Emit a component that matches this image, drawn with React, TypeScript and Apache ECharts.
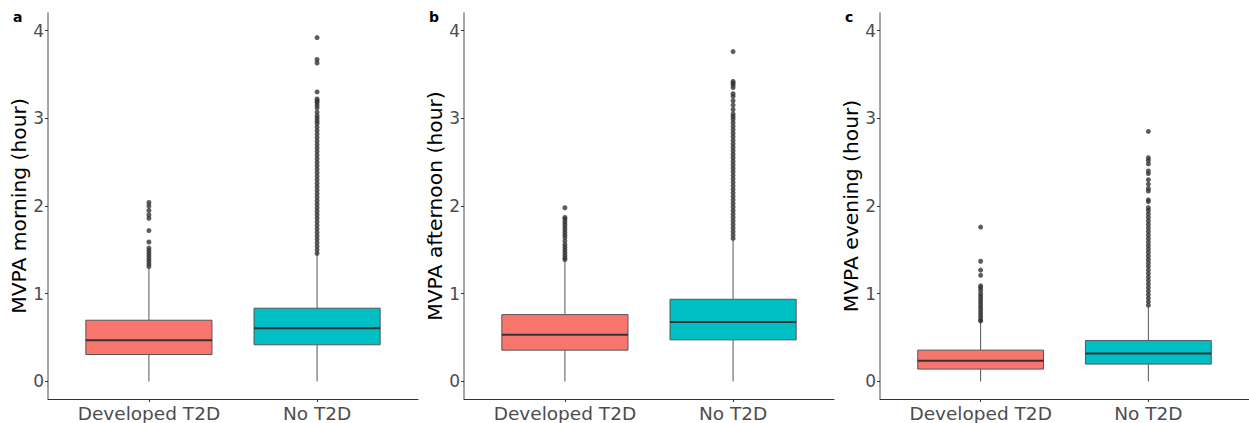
import React, { useEffect, useRef } from "react";
import * as echarts from "echarts";

const categories = ["Developed T2D", "No T2D"];
const panelLetters = ["a", "b", "c"];
const yTitles = ["MVPA morning (hour)", "MVPA afternoon (hour)", "MVPA evening (hour)"];
const yTicks = [0, 1, 2, 3, 4];

// [whiskerLow, Q1, median, Q3, whiskerHigh]
const morningDeveloped = [0, 0.307, 0.471, 0.698, 1.29];
const morningNo = [0, 0.418, 0.607, 0.835, 1.46];
const afternoonDeveloped = [0, 0.357, 0.531, 0.762, 1.38];
const afternoonNo = [0, 0.474, 0.679, 0.937, 1.62];
const eveningDeveloped = [0, 0.141, 0.235, 0.357, 0.68];
const eveningNo = [0, 0.198, 0.319, 0.466, 0.86];

const morningDevOut = [2.04, 2.0, 1.95, 1.9, 1.86, 1.72, 1.59, 1.52, 1.49, 1.46, 1.43, 1.4, 1.37, 1.34, 1.31];
const morningNoOut = [1.46, 1.5, 1.54, 1.58, 1.62, 1.66, 1.7, 1.74, 1.78, 1.82, 1.86, 1.9, 1.94, 1.98, 2.02, 2.06, 2.1, 2.14, 2.18, 2.22, 2.26, 2.3, 2.34, 2.38, 2.42, 2.46, 2.5, 2.54, 2.58, 2.62, 2.66, 2.7, 2.74, 2.78, 2.82, 2.86, 2.9, 2.94, 2.97, 3.0, 3.03, 3.07, 3.12, 3.15, 3.18, 3.2, 3.22, 3.3, 3.63, 3.67, 3.92];
const afternoonDevOut = [1.98, 1.87, 1.85, 1.82, 1.79, 1.76, 1.73, 1.7, 1.67, 1.64, 1.6, 1.56, 1.53, 1.5, 1.47, 1.44, 1.41, 1.39];
const afternoonNoOut = [1.63, 1.67, 1.71, 1.75, 1.79, 1.83, 1.87, 1.91, 1.95, 1.99, 2.03, 2.07, 2.11, 2.15, 2.19, 2.23, 2.27, 2.31, 2.35, 2.39, 2.43, 2.47, 2.51, 2.55, 2.59, 2.63, 2.67, 2.71, 2.75, 2.79, 2.83, 2.87, 2.91, 2.95, 2.99, 3.02, 3.05, 3.1, 3.15, 3.2, 3.25, 3.28, 3.35, 3.38, 3.4, 3.42, 3.76];
const eveningDevOut = [1.76, 1.37, 1.27, 1.21, 1.09, 1.07, 1.04, 1.0, 0.97, 0.94, 0.91, 0.88, 0.85, 0.82, 0.79, 0.76, 0.73, 0.7, 0.69];
const eveningNoOut = [0.87, 0.91, 0.95, 0.99, 1.03, 1.07, 1.11, 1.15, 1.19, 1.23, 1.27, 1.31, 1.35, 1.39, 1.43, 1.47, 1.51, 1.55, 1.59, 1.63, 1.67, 1.71, 1.75, 1.79, 1.83, 1.87, 1.91, 1.95, 1.98, 2.05, 2.07, 2.17, 2.2, 2.25, 2.3, 2.37, 2.4, 2.48, 2.52, 2.55, 2.85];

const colors = ["#F8766D", "#00BFC4"];

const panels = [
  { boxes: [morningDeveloped, morningNo], outliers: [morningDevOut, morningNoOut] },
  { boxes: [afternoonDeveloped, afternoonNo], outliers: [afternoonDevOut, afternoonNoOut] },
  { boxes: [eveningDeveloped, eveningNo], outliers: [eveningDevOut, eveningNoOut] },
];

const gridLefts = [48, 464, 880];
const gridWidth = 370;
const FONT = "DejaVu Sans";

export default function App() {
  const ref = useRef<HTMLDivElement>(null);
  useEffect(() => {
    const chart = echarts.init(ref.current!, null, { renderer: "svg" });
    const grids: any[] = [];
    const xAxes: any[] = [];
    const yAxes: any[] = [];
    const series: any[] = [];
    const graphics: any[] = [];
    panels.forEach((p, i) => {
      grids.push({ left: gridLefts[i], width: gridWidth, top: 13, height: 386 });
      xAxes.push({
        type: "value",
        gridIndex: i,
        min: 0.4,
        max: 2.6,
        splitLine: { show: false },
        axisLine: { show: true, onZero: false, lineStyle: { color: "#333333", width: 1 } },
        axisTick: { show: true, customValues: [1, 2], length: 3, lineStyle: { color: "#333333" } },
        axisLabel: {
          customValues: [1, 2],
          formatter: (v: number) => categories[Math.round(v) - 1] ?? "",
          color: "#4D4D4D",
          fontSize: 18.5,
          fontFamily: FONT,
          margin: 5,
        },
      });
      yAxes.push({
        type: "value",
        gridIndex: i,
        min: -0.2,
        max: 4.2,
        name: yTitles[i],
        nameLocation: "middle",
        nameGap: 16,
        nameTextStyle: { color: "#000000", fontSize: 20.3, fontFamily: FONT },
        splitLine: { show: false },
        axisLine: { show: true, onZero: false, lineStyle: { color: "#888888", width: 1.5 } },
        axisTick: { show: true, customValues: yTicks, length: 3, lineStyle: { color: "#333333" } },
        axisLabel: {
          customValues: yTicks,
          color: "#4D4D4D",
          fontSize: 17,
          fontFamily: FONT,
          margin: 4,
        },
      });
      series.push({
        type: "custom",
        xAxisIndex: i,
        yAxisIndex: i,
        data: p.boxes.map((b, k) => [k + 1, ...b]),
        renderItem: (params: any, api: any) => {
          const x = api.value(0);
          const idx = params.dataIndex;
          const lo = api.coord([x, api.value(1)]);
          const q1 = api.coord([x, api.value(2)]);
          const med = api.coord([x, api.value(3)]);
          const q3 = api.coord([x, api.value(4)]);
          const hi = api.coord([x, api.value(5)]);
          const left = api.coord([x - 0.375, 0])[0];
          const right = api.coord([x + 0.375, 0])[0];
          const cx = lo[0];
          return {
            type: "group",
            children: [
              { type: "line", shape: { x1: cx, y1: lo[1], x2: cx, y2: q1[1] }, style: { stroke: "#555555", lineWidth: 1 } },
              { type: "line", shape: { x1: cx, y1: q3[1], x2: cx, y2: hi[1] }, style: { stroke: "#555555", lineWidth: 1 } },
              {
                type: "rect",
                shape: { x: left, y: q3[1], width: right - left, height: q1[1] - q3[1] },
                style: { fill: colors[idx], stroke: "#555555", lineWidth: 1 },
              },
              { type: "line", shape: { x1: left, y1: med[1], x2: right, y2: med[1] }, style: { stroke: "#333333", lineWidth: 2 } },
            ],
          };
        },
      });
      p.outliers.forEach((vals, k) => {
        series.push({
          type: "scatter",
          xAxisIndex: i,
          yAxisIndex: i,
          symbol: "circle",
          symbolSize: 5,
          itemStyle: { color: "#333333" },
          data: vals.map((v) => [k + 1, v]),
        });
      });
      graphics.push({
        type: "text",
        left: gridLefts[i] - 35,
        top: 10,
        style: { text: panelLetters[i], fontSize: 14, fontWeight: "bold", fontFamily: FONT, fill: "#000000" },
      });
    });
    chart.setOption({
      animation: false,
      backgroundColor: "#ffffff",
      grid: grids,
      xAxis: xAxes,
      yAxis: yAxes,
      series,
      graphic: graphics,
    });
    return () => chart.dispose();
  }, []);
  return <div ref={ref} style={{ width: 1249, height: 423, position: "absolute", left: 0, top: 0 }} />;
}
